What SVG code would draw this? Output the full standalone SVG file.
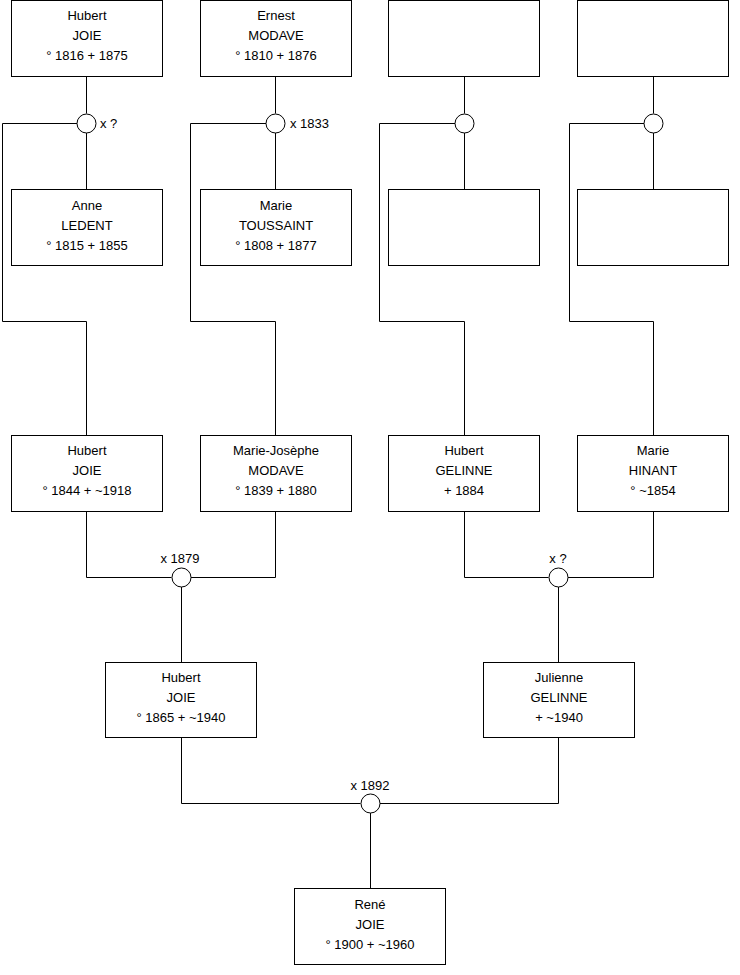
<svg xmlns="http://www.w3.org/2000/svg" width="740" height="975" viewBox="0 0 740 975">
<style>
.b{fill:#fff;stroke:#000;stroke-width:1}
.c{fill:#fff;stroke:#000;stroke-width:1}
.l{fill:none;stroke:#000;stroke-width:1}
text{font-family:"Liberation Sans",Arial,sans-serif;font-size:13px;fill:#000}
.m{text-anchor:middle}
</style>
<rect width="740" height="975" fill="#fff"/>
<g id="connectors">
<path class="l" d="M86.5 76.5V113.5M86.5 132.5V189.5M77 123.5H2.5V321.5H86.5V435.5"/>
<path class="l" d="M275.5 76.5V113.5M275.5 132.5V189.5M266 123.5H190.5V321.5H275.5V435.5"/>
<path class="l" d="M464.5 76.5V113.5M464.5 132.5V189.5M455 123.5H379.5V321.5H464.5V435.5"/>
<path class="l" d="M653.5 76.5V113.5M653.5 132.5V189.5M644 123.5H569.5V321.5H653.5V435.5"/>
<path class="l" d="M86.5 511.5V577.5H171.5M275.5 511.5V577.5H190.5M181.5 587V662.5"/>
<path class="l" d="M464.5 511.5V577.5H548.5M653.5 511.5V577.5H567.5M558.5 587V662.5"/>
<path class="l" d="M181.5 737.5V803.5H360.5M558.5 737.5V803.5H379.5M370.5 813V888.5"/>
</g>
<g id="m1"><circle class="c" cx="86.5" cy="123.5" r="9.5"/><text x="100" y="128">x ?</text></g>
<g id="m2"><circle class="c" cx="275.5" cy="123.5" r="9.5"/><text x="290" y="128">x 1833</text></g>
<g id="m3"><circle class="c" cx="464.5" cy="123.5" r="9.5"/></g>
<g id="m4"><circle class="c" cx="653.5" cy="123.5" r="9.5"/></g>
<g id="m5"><circle class="c" cx="181.5" cy="577.5" r="9.5"/><text class="m" x="180" y="563">x 1879</text></g>
<g id="m6"><circle class="c" cx="558.5" cy="577.5" r="9.5"/><text class="m" x="558" y="563">x ?</text></g>
<g id="m7"><circle class="c" cx="370.5" cy="803.5" r="9.5"/><text class="m" x="370" y="790">x 1892</text></g>
<g id="p1"><rect class="b" x="11.5" y="0.5" width="151" height="76"/><text class="m" x="87" y="20">Hubert</text><text class="m" x="87" y="40">JOIE</text><text class="m" x="87" y="60">° 1816 + 1875</text></g>
<g id="p2"><rect class="b" x="200.5" y="0.5" width="151" height="76"/><text class="m" x="276" y="20">Ernest</text><text class="m" x="276" y="40">MODAVE</text><text class="m" x="276" y="60">° 1810 + 1876</text></g>
<g id="p3"><rect class="b" x="388.5" y="0.5" width="151" height="76"/></g>
<g id="p4"><rect class="b" x="577.5" y="0.5" width="151" height="76"/></g>
<g id="p5"><rect class="b" x="11.5" y="189.5" width="151" height="76"/><text class="m" x="87" y="210">Anne</text><text class="m" x="87" y="230">LEDENT</text><text class="m" x="87" y="250">° 1815 + 1855</text></g>
<g id="p6"><rect class="b" x="200.5" y="189.5" width="151" height="76"/><text class="m" x="276" y="210">Marie</text><text class="m" x="276" y="230">TOUSSAINT</text><text class="m" x="276" y="250">° 1808 + 1877</text></g>
<g id="p7"><rect class="b" x="388.5" y="189.5" width="151" height="76"/></g>
<g id="p8"><rect class="b" x="577.5" y="189.5" width="151" height="76"/></g>
<g id="p9"><rect class="b" x="11.5" y="435.5" width="151" height="76"/><text class="m" x="87" y="455">Hubert</text><text class="m" x="87" y="475">JOIE</text><text class="m" x="87" y="495">° 1844 + ~1918</text></g>
<g id="p10"><rect class="b" x="200.5" y="435.5" width="151" height="76"/><text class="m" x="276" y="455">Marie-Josèphe</text><text class="m" x="276" y="475">MODAVE</text><text class="m" x="276" y="495">° 1839 + 1880</text></g>
<g id="p11"><rect class="b" x="388.5" y="435.5" width="151" height="76"/><text class="m" x="464" y="455">Hubert</text><text class="m" x="464" y="475">GELINNE</text><text class="m" x="464" y="495">+ 1884</text></g>
<g id="p12"><rect class="b" x="577.5" y="435.5" width="151" height="76"/><text class="m" x="653" y="455">Marie</text><text class="m" x="653" y="475">HINANT</text><text class="m" x="653" y="495">° ~1854</text></g>
<g id="p13"><rect class="b" x="105.5" y="662.5" width="151" height="75"/><text class="m" x="181" y="682">Hubert</text><text class="m" x="181" y="702">JOIE</text><text class="m" x="181" y="722">° 1865 + ~1940</text></g>
<g id="p14"><rect class="b" x="483.5" y="662.5" width="151" height="75"/><text class="m" x="559" y="682">Julienne</text><text class="m" x="559" y="702">GELINNE</text><text class="m" x="559" y="722">+ ~1940</text></g>
<g id="p15"><rect class="b" x="294.5" y="888.5" width="151" height="76"/><text class="m" x="370" y="909">René</text><text class="m" x="370" y="929">JOIE</text><text class="m" x="370" y="949">° 1900 + ~1960</text></g>
</svg>
